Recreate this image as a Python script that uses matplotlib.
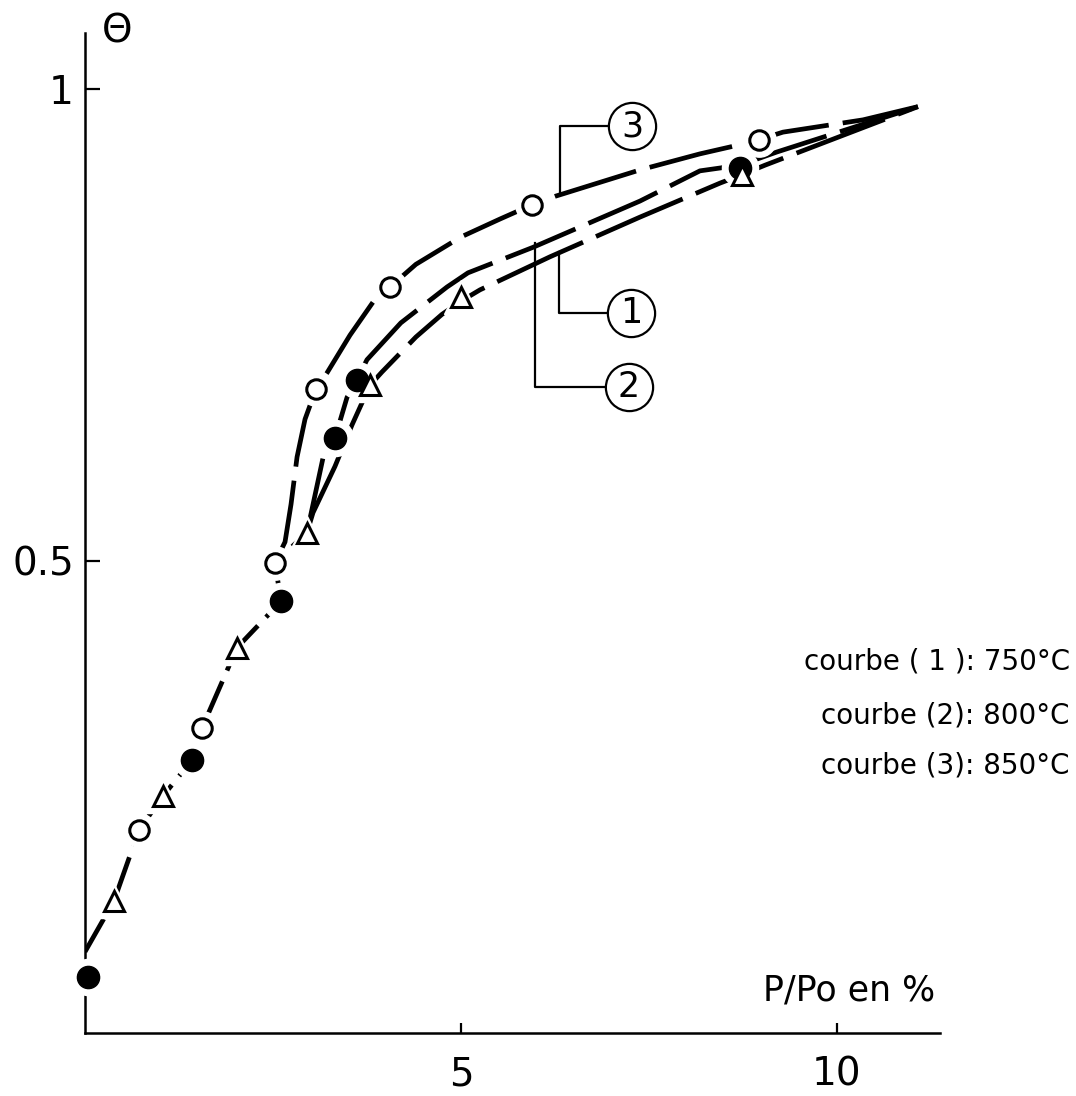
import matplotlib
matplotlib.use("Agg")
import matplotlib.pyplot as plt

x_850 = [0.72, 1.56, 2.53, 3.07, 4.06, 5.94, 8.96]
y_850 = [0.215, 0.323, 0.498, 0.682, 0.790, 0.877, 0.946]
x_800 = [0.04, 1.42, 2.61, 3.32, 3.62, 8.71]
y_800 = [0.059, 0.289, 0.457, 0.630, 0.692, 0.916]
x_750 = [0.39, 1.04, 2.02, 2.95, 3.79, 5.00, 8.74]
y_750 = [0.140, 0.251, 0.408, 0.530, 0.686, 0.779, 0.909]

# trace des courbes (tronc commun puis 3 branches)
tronc_x = [0.00, 0.386, 0.718, 1.037, 1.423, 1.556, 2.021, 2.606, 2.527, 2.952]
tronc_y = [0.086, 0.140, 0.215, 0.251, 0.289, 0.323, 0.408, 0.457, 0.498, 0.530]
c3_x = [2.527, 2.660, 2.740, 2.820, 2.926, 3.072, 3.218, 3.524, 3.830, 4.056, 4.400,
        5.000, 5.519, 5.944, 6.250, 7.380, 8.178, 8.617, 8.963, 9.282, 10.346, 11.077]
c3_y = [0.498, 0.520, 0.560, 0.610, 0.650, 0.682, 0.699, 0.739, 0.774, 0.790, 0.814,
        0.843, 0.862, 0.877, 0.886, 0.914, 0.931, 0.939, 0.946, 0.954, 0.967, 0.981]
c2_x = [2.952, 3.165, 3.324, 3.484, 3.617, 3.750, 4.200, 4.814, 5.093, 5.957, 7.380,
        8.178, 8.710, 9.202, 11.077]
c2_y = [0.530, 0.609, 0.630, 0.673, 0.692, 0.713, 0.752, 0.790, 0.805, 0.832, 0.881,
        0.913, 0.919, 0.933, 0.981]
c1_x = [2.952, 3.032, 3.324, 3.551, 3.790, 3.949, 4.400, 4.747, 5.000, 5.253, 6.184,
        7.380, 8.444, 8.737, 9.043, 11.077]
c1_y = [0.530, 0.551, 0.600, 0.644, 0.686, 0.700, 0.737, 0.761, 0.775, 0.787, 0.822,
        0.864, 0.900, 0.909, 0.919, 0.981]

# reperes (1) (2) (3)
rep_noms = ["3", "1", "2"]
rep_x = [6.316, 6.303, 5.984]
rep_y0 = [0.891, 0.827, 0.837]
rep_y1 = [0.960, 0.762, 0.684]
rep_cx = [7.274, 7.261, 7.234]

legende = ["courbe ( 1 ): 750°C", "courbe (2): 800°C", "courbe (3): 850°C"]

fig = plt.figure(figsize=(10.76, 10.96), dpi=100)
ax = fig.add_axes([0.079, 0.0575, 0.7946, 0.9124])
ax.set_xlim(0, 11.37)
ax.set_ylim(0, 1.059)

for s in ["top", "right"]:
    ax.spines[s].set_visible(False)
for s in ["left", "bottom"]:
    ax.spines[s].set_linewidth(1.8)

ax.set_xticks([5, 10])
ax.set_xticklabels(["5", "10"])
ax.set_yticks([0.5, 1])
ax.set_yticklabels(["0.5", "1"])
ax.tick_params(axis="x", direction="in", length=7, width=1.6, labelsize=28, pad=16)
ax.tick_params(axis="y", direction="in", length=11, width=1.6, labelsize=28, pad=8)

lw = 3.4
ax.plot(tronc_x, tronc_y, color="k", lw=lw, ls=(0, (8, 2.5, 1.2, 2.5)), zorder=2)
ax.plot(c3_x, c3_y, color="k", lw=lw, ls=(0, (18, 3)), zorder=2)
ax.plot(c2_x, c2_y, color="k", lw=lw, ls=(0, (16, 3)), zorder=2)
ax.plot(c1_x, c1_y, color="k", lw=lw, ls=(0, (20, 3)), zorder=2)

# halos blancs autour des points
ax.plot(x_850, y_850, ls="none", marker="o", ms=24, mfc="white", mec="white", zorder=3, clip_on=False)
ax.plot(x_800, y_800, ls="none", marker="o", ms=26, mfc="white", mec="white", zorder=3, clip_on=False)
ax.plot(x_750, y_750, ls="none", marker="^", ms=24, mfc="white", mec="white", zorder=3, clip_on=False)

ax.plot(x_850, y_850, ls="none", marker="o", ms=14, mfc="white", mec="k", mew=2.2, zorder=4, clip_on=False)
ax.plot(x_800, y_800, ls="none", marker="o", ms=16, mfc="k", mec="k", zorder=4, clip_on=False)
ax.plot(x_750, y_750, ls="none", marker="^", ms=14, mfc="white", mec="k", mew=2.2, zorder=4, clip_on=False)

for nom, xr, ya, yb, cx in zip(rep_noms, rep_x, rep_y0, rep_y1, rep_cx):
    ax.plot([xr, xr, cx], [ya, yb, yb], color="k", lw=1.6, zorder=5)
    ax.plot([cx], [yb], marker="o", ms=34, mfc="white", mec="k", mew=1.6, zorder=6)
    ax.text(cx, yb, nom, fontsize=25, ha="center", va="center", zorder=7)

fig.text(0.1087, 0.971, "Θ", fontsize=28, ha="center", va="center")
fig.text(0.869, 0.0967, "P/Po en %", fontsize=25, ha="right", va="center")

for txt, yf in zip(legende, [0.396, 0.3476, 0.302]):
    fig.text(0.9944, yf, txt, fontsize=20, ha="right", va="center")

fig.savefig("out.png", dpi=100)
